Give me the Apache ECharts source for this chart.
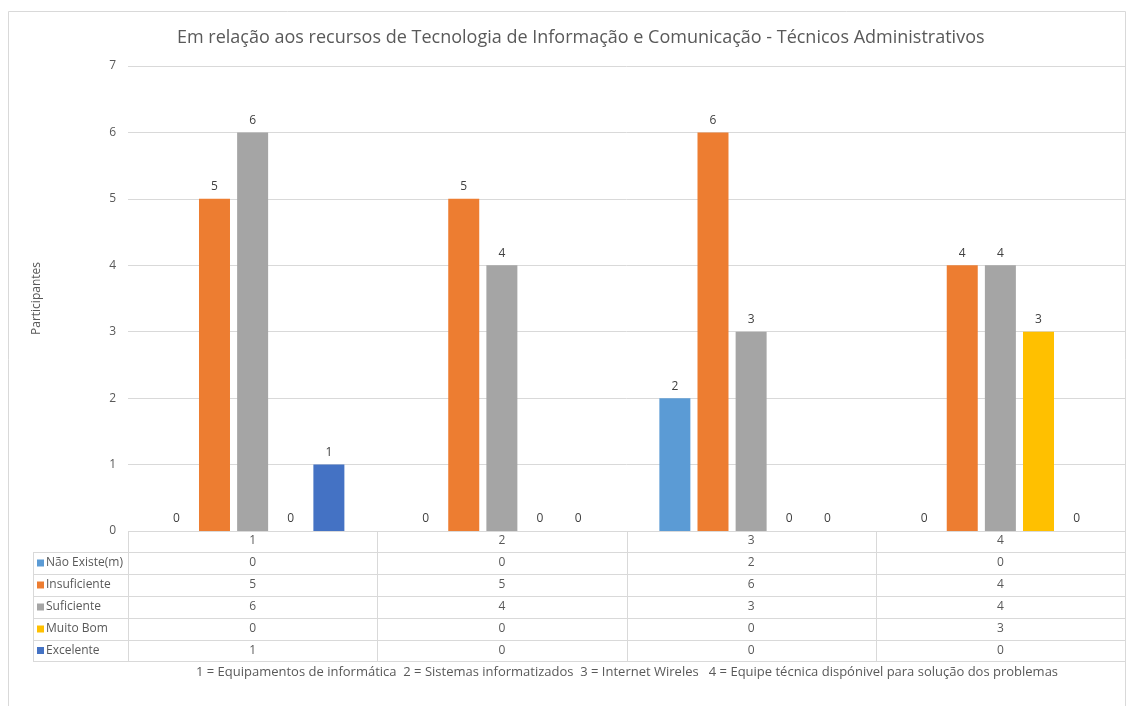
<!DOCTYPE html>
<html>
<head>
<meta charset="utf-8">
<script src="https://cdn.jsdelivr.net/npm/echarts@6/dist/echarts.min.js"></script>
<style>
  html, body { margin: 0; padding: 0; background: #fff; }
  #main { width: 1128px; height: 706px; }
</style>
</head>
<body>
<div id="main"></div>
<script>
    // dados do gráfico
    var categorias = ['1', '2', '3', '4'];
    var nomesSeries = ['Não Existe(m)', 'Insuficiente', 'Suficiente', 'Muito Bom', 'Excelente'];
    var naoExiste = [0, 0, 2, 0];
    var insuficiente = [5, 5, 6, 4];
    var suficiente = [6, 4, 3, 4];
    var muitoBom = [0, 0, 0, 3];
    var excelente = [1, 0, 0, 0];
    var cores = ['#5B9BD5', '#ED7D31', '#A5A5A5', '#FFC000', '#4472C4'];
    var valores = [naoExiste, insuficiente, suficiente, muitoBom, excelente];
    var legenda = '1 = Equipamentos de informática  2 = Sistemas informatizados  3 = Internet Wireles   4 = Equipe técnica dispónivel para solução dos problemas';

    var fonte = 'Open Sans';
    var corTexto = '#595959';
    var corLinha = '#D9D9D9';

    // layout da tabela
    var esq = 128, dir = 1125, topo = 66, base = 531;
    var linhas = [531, 552, 574, 596, 618, 640, 661];
    var xLegenda = 33;
    var larg = (dir - esq) / categorias.length;

    var series = [];
    for (var i = 0; i < nomesSeries.length; i++) {
        series.push({
            name: nomesSeries[i],
            type: 'bar',
            data: valores[i],
            barWidth: 31,
            barGap: '23%',
            itemStyle: { color: cores[i] },
            label: {
                show: true,
                position: 'top',
                distance: 6,
                color: '#404040',
                fontFamily: fonte,
                fontSize: 12
            }
        });
    }

    var graficos = [];
    // borda externa
    graficos.push({
        type: 'rect',
        shape: { x: 8.5, y: 11.5, width: 1117, height: 700 },
        style: { fill: null, stroke: corLinha, lineWidth: 1 },
        silent: true
    });
    // linhas horizontais
    for (var r = 0; r < linhas.length; r++) {
        graficos.push({
            type: 'line',
            shape: { x1: r === 0 ? esq : xLegenda, y1: linhas[r] + 0.5, x2: dir, y2: linhas[r] + 0.5 },
            style: { stroke: corLinha, lineWidth: 1 },
            silent: true
        });
    }
    // linhas verticais
    graficos.push({
        type: 'line',
        shape: { x1: xLegenda + 0.5, y1: linhas[1], x2: xLegenda + 0.5, y2: linhas[6] },
        style: { stroke: corLinha, lineWidth: 1 }, silent: true
    });
    for (var c = 0; c <= categorias.length; c++) {
        var xc = Math.round(esq + c * larg) + 0.5;
        graficos.push({
            type: 'line',
            shape: { x1: xc, y1: linhas[0], x2: xc, y2: linhas[6] },
            style: { stroke: corLinha, lineWidth: 1 }, silent: true
        });
    }
    // legenda e valores da tabela
    for (var s = 0; s < nomesSeries.length; s++) {
        var yMeio = (linhas[s + 1] + linhas[s + 2]) / 2;
        graficos.push({
            type: 'rect',
            shape: { x: 37, y: yMeio - 3.5, width: 7, height: 7 },
            style: { fill: cores[s] }, silent: true
        });
        graficos.push({
            type: 'text',
            x: 46, y: yMeio,
            style: { text: nomesSeries[s], fill: corTexto, font: '12px "' + fonte + '"', textVerticalAlign: 'middle' },
            silent: true
        });
        for (var k = 0; k < categorias.length; k++) {
            graficos.push({
                type: 'text',
                x: esq + (k + 0.5) * larg, y: yMeio,
                style: { text: String(valores[s][k]), fill: corTexto, font: '12px "' + fonte + '"', textAlign: 'center', textVerticalAlign: 'middle' },
                silent: true
            });
        }
    }
    // nota de rodapé
    graficos.push({
        type: 'text',
        x: 627, y: 672,
        style: { text: legenda, fill: corTexto, font: '13px "' + fonte + '"', textAlign: 'center', textVerticalAlign: 'middle' },
        silent: true
    });

    var myChart = echarts.init(document.getElementById('main'));
    var option = {
        backgroundColor: '#fff',
        animation: false,
        title: {
            text: 'Em relação aos recursos de Tecnologia de Informação e Comunicação - Técnicos Administrativos',
            left: 172,
            top: 24,
            textStyle: { color: corTexto, fontFamily: fonte, fontSize: 18, fontWeight: 'normal' }
        },
        grid: { left: esq, right: 1128 - dir, top: topo, bottom: 706 - base },
        xAxis: {
            type: 'category',
            data: categorias,
            axisLine: { show: false },
            axisTick: { show: false },
            axisLabel: { color: corTexto, fontFamily: fonte, fontSize: 12, margin: 4 }
        },
        yAxis: {
            type: 'value',
            min: 0, max: 7, interval: 1,
            name: 'Participantes',
            nameLocation: 'middle',
            nameGap: 85,
            nameTextStyle: { color: corTexto, fontFamily: fonte, fontSize: 12 },
            axisLine: { show: false },
            axisTick: { show: false },
            axisLabel: { color: corTexto, fontFamily: fonte, fontSize: 12, margin: 12 },
            splitLine: { lineStyle: { color: corLinha } }
        },
        series: series,
        graphic: { elements: graficos }
    };
    myChart.setOption(option);
</script>
</body>
</html>
